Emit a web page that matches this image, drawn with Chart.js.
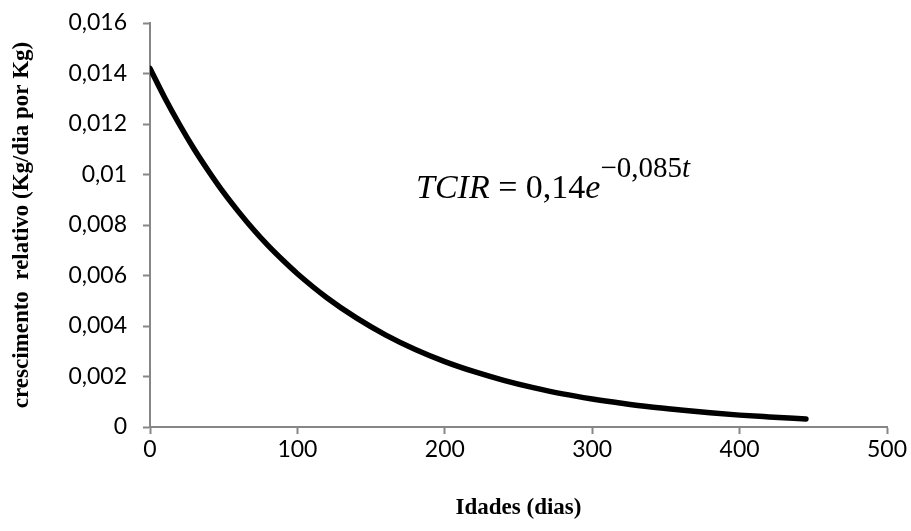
<!DOCTYPE html>
<html>
<head>
<meta charset="utf-8">
<script src="https://cdn.jsdelivr.net/npm/chart.js@4.4.1/dist/chart.umd.min.js"></script>
<style>
  html, body { margin: 0; padding: 0; background: #fff; }
  #box { width: 911px; height: 531px; }
</style>
</head>
<body>
<div id="box"><canvas id="tcirChart" width="911" height="531"></canvas></div>
<script>
// Idade (dias) e taxa de crescimento relativo
const idades = [0, 10, 20, 30, 40, 50, 60, 70, 80, 90, 100, 120, 140, 160, 180, 200,
                220, 240, 260, 280, 300, 320, 340, 360, 380, 400, 420, 445];
const crescimento = [0.01420, 0.01304, 0.01198, 0.01100, 0.01011, 0.00928, 0.00853,
                     0.00783, 0.00719, 0.00661, 0.00607, 0.00512, 0.00432, 0.00364,
                     0.00307, 0.00259, 0.00219, 0.00185, 0.00156, 0.00131, 0.00111,
                     0.00094, 0.00079, 0.00067, 0.00056, 0.00047, 0.00040, 0.00032];
const xTicks = [0, 100, 200, 300, 400, 500];
const yTicks = [0, 0.002, 0.004, 0.006, 0.008, 0.01, 0.012, 0.014, 0.016];

const axisGray = "#868686";
const tickFont = { family: "Lato, 'Open Sans', sans-serif", size: 23 };
const titleFont = { family: "'Liberation Serif', 'Times New Roman', serif", size: 23, weight: "bold" };

// Vírgula decimal
function fmt(v) {
    return String(v).replace(".", ",");
}

// Equação escrita dentro da área do gráfico
const equacao = {
    id: "equacao",
    afterDraw(chart) {
        const ctx = chart.ctx;
        ctx.save();
        ctx.fillStyle = "#000";
        ctx.textBaseline = "alphabetic";
        let x = 416, y = 198;
        const parts = [
            ["italic 34px 'Liberation Serif'", "TCIR", 0],
            ["34px 'Liberation Serif'", " = 0,14", 0],
            ["italic 34px 'Liberation Serif'", "e", 0],
            ["29px 'Liberation Serif'", "\u22120,085", -21],
            ["italic 29px 'Liberation Serif'", "t", -21]
        ];
        parts.forEach(([font, txt, dy]) => {
            ctx.font = font;
            ctx.fillText(txt, x, y + dy);
            x += ctx.measureText(txt).width;
        });
        ctx.restore();
    }
};

function createChart() {
    const ctx = document.getElementById("tcirChart").getContext("2d");
    new Chart(ctx, {
        type: "scatter",
        data: {
            datasets: [{
                data: idades.map((t, i) => ({ x: t, y: crescimento[i] })),
                showLine: true,
                borderColor: "#000",
                borderWidth: 5.5,
                borderCapStyle: "round",
                pointRadius: 0,
                cubicInterpolationMode: "monotone"
            }]
        },
        options: {
            responsive: false,
            animation: false,
            layout: { padding: { top: 23, right: 24, bottom: 0, left: 0 } },
            plugins: { legend: { display: false }, tooltip: { enabled: false } },
            scales: {
                x: {
                    type: "linear",
                    min: 0, max: 500,
                    afterBuildTicks: s => { s.ticks = xTicks.map(v => ({ value: v })); },
                    afterFit: s => { s.height = 104; s.paddingLeft = 0; s.paddingRight = 0; },
                    grid: { drawOnChartArea: false, tickLength: 7, tickColor: axisGray, tickWidth: 2 },
                    border: { color: axisGray, width: 2 },
                    ticks: { color: "#000", font: tickFont, padding: 2, maxRotation: 0, callback: v => fmt(v) },
                    title: { display: true, text: "Idades (dias)", color: "#000", font: titleFont, padding: { top: 0, bottom: 9 } }
                },
                y: {
                    min: 0, max: 0.016,
                    afterBuildTicks: s => { s.ticks = yTicks.map(v => ({ value: v })); },
                    afterFit: s => { s.width = 150; s.paddingTop = 0; s.paddingBottom = 0; },
                    grid: { drawOnChartArea: false, tickLength: 7, tickColor: axisGray, tickWidth: 2 },
                    border: { color: axisGray, width: 2 },
                    ticks: { color: "#000", font: tickFont, padding: 16, callback: v => fmt(v) },
                    title: { display: true, text: "crescimento  relativo (Kg/dia por Kg)", color: "#000", font: titleFont, padding: { top: 8, bottom: 0 } }
                }
            }
        },
        plugins: [equacao]
    });
}

document.addEventListener("DOMContentLoaded", createChart);
</script>
</body>
</html>
